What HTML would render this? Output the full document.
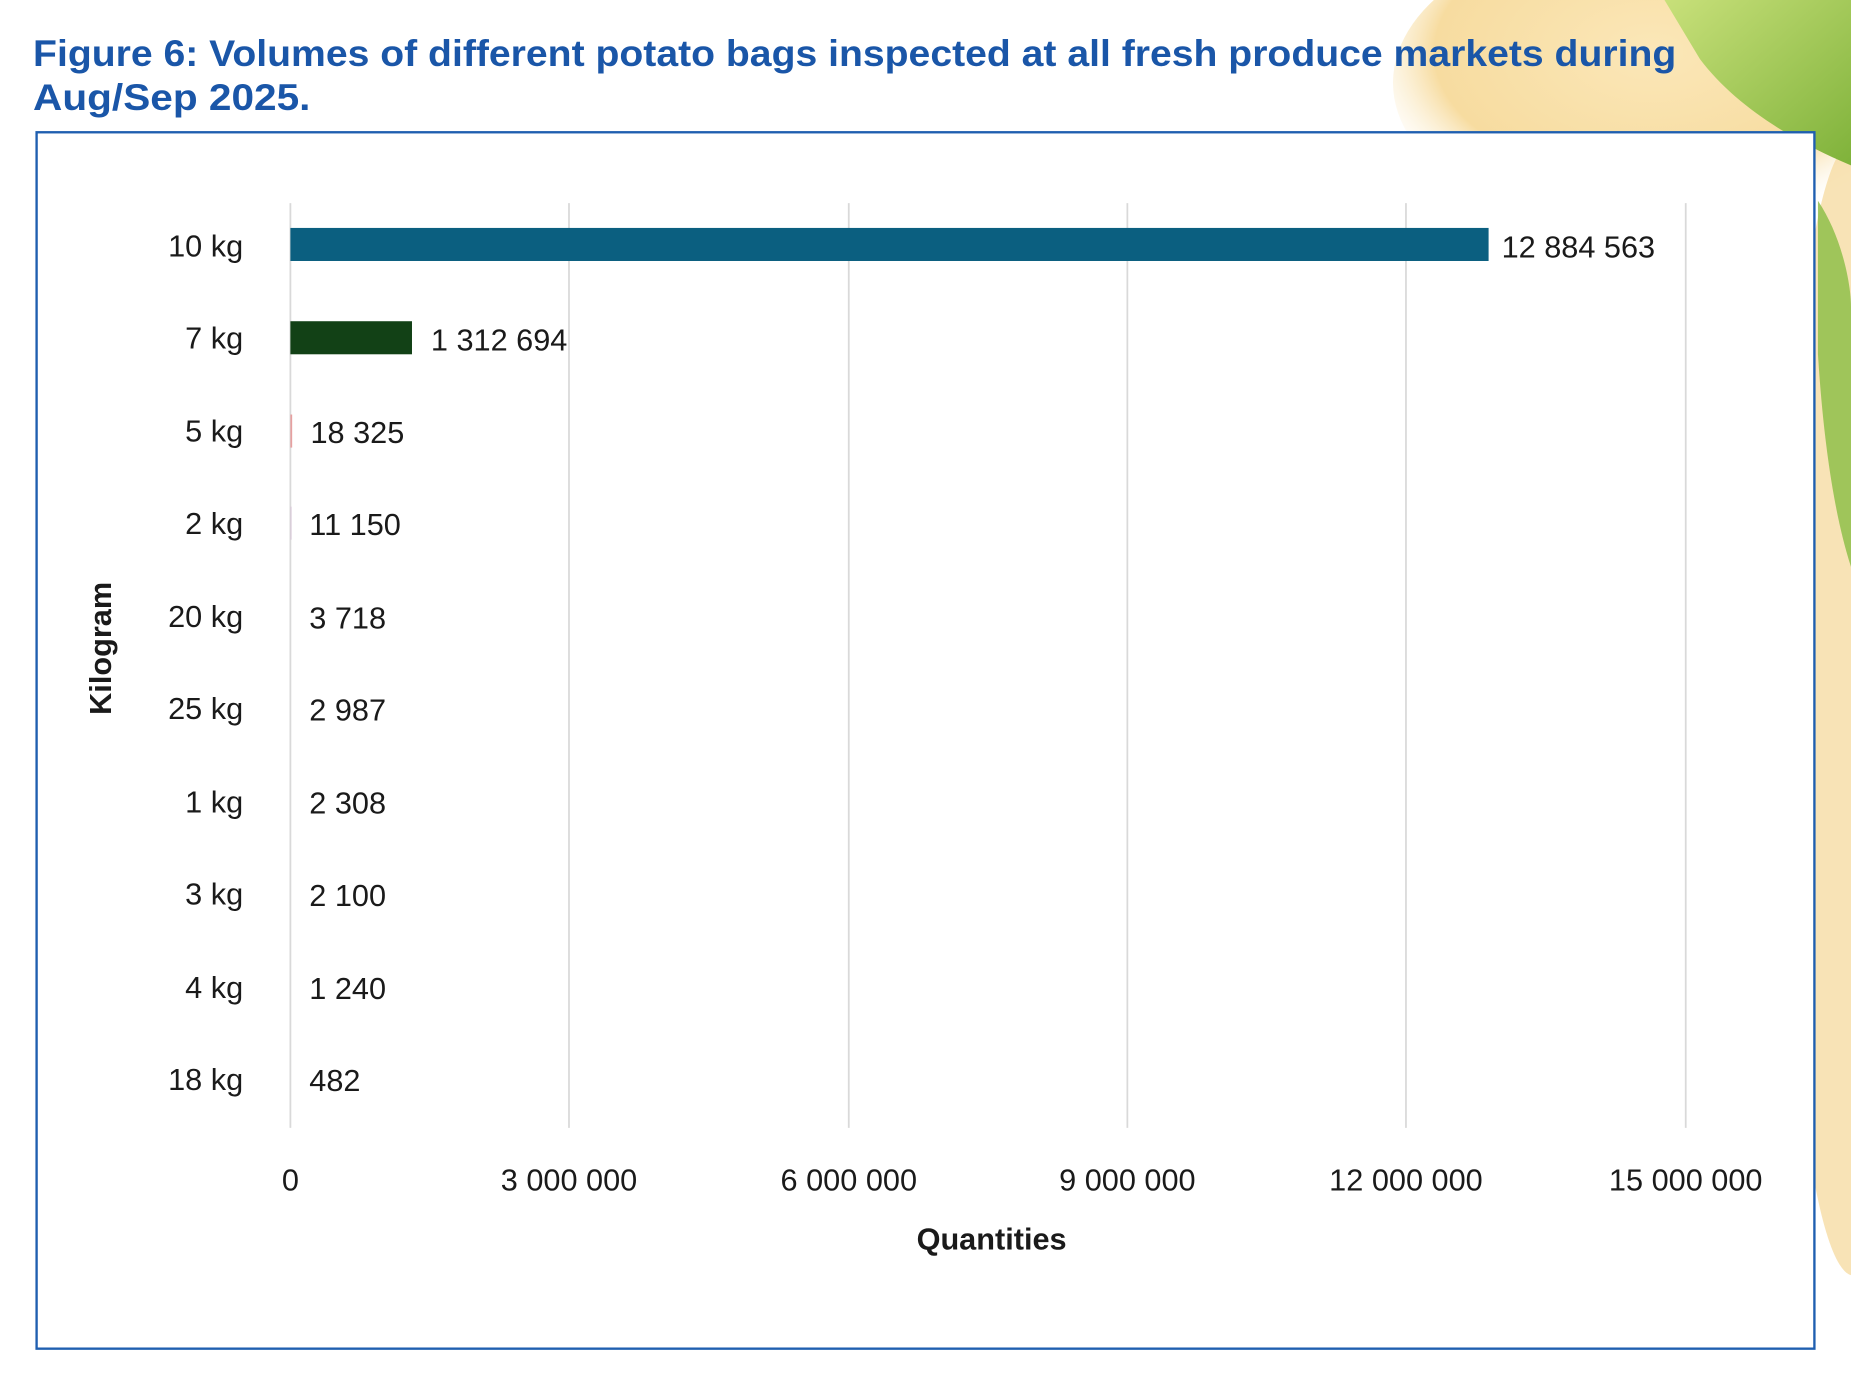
<!DOCTYPE html>
<html><head><meta charset="utf-8"><style>
html,body{margin:0;padding:0;background:#fff;width:1851px;height:1390px;overflow:hidden}
svg{display:block}
text{font-family:"Liberation Sans",sans-serif}
</style></head><body>
<svg width="1851" height="1390" viewBox="0 0 1568 1177" preserveAspectRatio="none" xmlns="http://www.w3.org/2000/svg">
<defs>
<radialGradient id="pot" cx="0.5" cy="0.4" r="0.6">
<stop offset="0" stop-color="#fbe7b8"/><stop offset="0.7" stop-color="#f7dca0"/><stop offset="1" stop-color="#fff" stop-opacity="0"/>
</radialGradient>
<linearGradient id="leaf" x1="0" y1="0" x2="1" y2="1">
<stop offset="0" stop-color="#c8e07a"/><stop offset="1" stop-color="#7fb23a"/>
</linearGradient>
</defs>
<rect width="1568" height="1177" fill="#fff"/>
<ellipse cx="1400" cy="70" rx="220" ry="130" fill="url(#pot)"/>
<ellipse cx="1570" cy="600" rx="60" ry="480" fill="#f6dca4" opacity="0.8"/>
<path d="M1410 0 L1568 0 L1568 140 C1520 120 1470 90 1440 50 Z" fill="url(#leaf)"/>
<path d="M1540 170 C1560 200 1568 240 1568 260 L1568 480 C1555 440 1545 380 1540 300 Z" fill="#8fbf4a" opacity="0.85"/>
<text x="28" y="56" font-size="31" font-weight="bold" fill="#1a56a8" textLength="1392" lengthAdjust="spacingAndGlyphs">Figure 6: Volumes of different potato bags inspected at all fresh produce markets during</text>
<text x="28" y="93" font-size="31" font-weight="bold" fill="#1a56a8" textLength="235" lengthAdjust="spacingAndGlyphs">Aug/Sep 2025.</text>
<rect x="31" y="112" width="1506" height="1030" fill="#fff" stroke="#1f5fb0" stroke-width="2"/>
<g stroke="#d9d9d9" stroke-width="1.5">
<line x1="246" y1="172" x2="246" y2="955"/>
<line x1="482" y1="172" x2="482" y2="955"/>
<line x1="719" y1="172" x2="719" y2="955"/>
<line x1="955" y1="172" x2="955" y2="955"/>
<line x1="1191" y1="172" x2="1191" y2="955"/>
<line x1="1428" y1="172" x2="1428" y2="955"/>
</g>
<rect x="246" y="193" width="1015" height="28" fill="#0b5f80"/>
<rect x="246" y="272" width="103" height="28" fill="#124116"/>
<rect x="246" y="351" width="1.5" height="28" fill="#e6a0a0"/>
<rect x="246" y="429" width="1" height="28" fill="#d8c8d8"/>
<g font-size="26" fill="#1a1a1a" text-anchor="end">
<text x="206" y="217">10 kg</text>
<text x="206" y="295">7 kg</text>
<text x="206" y="374">5 kg</text>
<text x="206" y="452">2 kg</text>
<text x="206" y="531">20 kg</text>
<text x="206" y="609">25 kg</text>
<text x="206" y="688">1 kg</text>
<text x="206" y="766">3 kg</text>
<text x="206" y="845">4 kg</text>
<text x="206" y="923">18 kg</text>
</g>
<g font-size="26" fill="#1a1a1a">
<text x="1272" y="218">12 884 563</text>
<text x="365" y="297">1 312 694</text>
<text x="263" y="375">18 325</text>
<text x="262" y="453">11 150</text>
<text x="262" y="532">3 718</text>
<text x="262" y="610">2 987</text>
<text x="262" y="689">2 308</text>
<text x="262" y="767">2 100</text>
<text x="262" y="846">1 240</text>
<text x="262" y="924">482</text>
</g>
<g font-size="26" fill="#1a1a1a" text-anchor="middle">
<text x="246" y="1008">0</text>
<text x="482" y="1008">3 000 000</text>
<text x="719" y="1008">6 000 000</text>
<text x="955" y="1008">9 000 000</text>
<text x="1191" y="1008">12 000 000</text>
<text x="1428" y="1008">15 000 000</text>
</g>
<text x="840" y="1058" font-size="26" font-weight="bold" fill="#1a1a1a" text-anchor="middle">Quantities</text>
<text transform="translate(94,549) rotate(-90)" font-size="26" font-weight="bold" fill="#1a1a1a" text-anchor="middle">Kilogram</text>
</svg>
</body></html>
